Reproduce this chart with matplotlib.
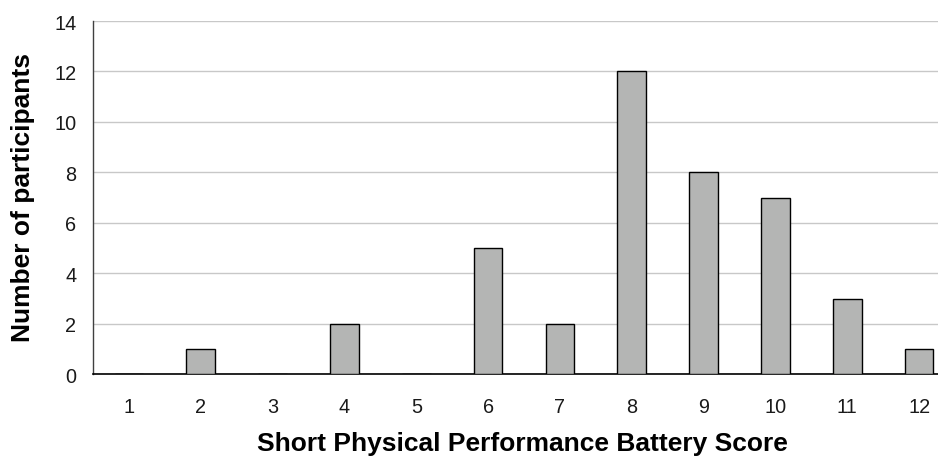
import numpy as np
import matplotlib
matplotlib.use("Agg")
import matplotlib.pyplot as plt

scores = [1, 2, 3, 4, 5, 6, 7, 8, 9, 10, 11, 12]
participants = [0, 1, 0, 2, 0, 5, 2, 12, 8, 7, 3, 1]
y_ticks = [0, 2, 4, 6, 8, 10, 12, 14]

plt.rcParams['font.family'] = ['Liberation Sans', 'DejaVu Sans']

fig = plt.figure(figsize=(9.38, 4.6), dpi=100)
# axes runs slightly past the right edge, like the reference
ax = fig.add_axes([93 / 938, 1 - 375.3 / 460, (955 - 93) / 938, (375.3 - 22) / 460])

ax.bar(scores, participants, width=0.4, color='#b4b5b4', edgecolor='black',
       linewidth=1.0, zorder=3)

ax.set_xlim(0.5, 12.5)
ax.set_ylim(0, 14)
ax.set_yticks(y_ticks)
ax.set_xticks(scores)
ax.set_xticklabels([str(s) for s in scores])
ax.tick_params(axis='both', length=0, labelsize=14.3, colors='#1a1a1a')
ax.tick_params(axis='x', pad=16)
ax.tick_params(axis='y', pad=12)

ax.yaxis.grid(True, color='#c8c8c8', linewidth=1.0, zorder=0)
ax.set_axisbelow(True)

for side in ['top', 'right']:
    ax.spines[side].set_visible(False)
ax.spines['left'].set_color('#404040')
ax.spines['left'].set_linewidth(1.0)
ax.spines['bottom'].set_color('black')
ax.spines['bottom'].set_linewidth(1.2)

fig.text(23 / 938, 1 - 197 / 460, 'Number of participants', rotation=90,
         fontsize=19, fontweight='bold', ha='center', va='center')
fig.text(522 / 938, 1 - 444 / 460, 'Short Physical Performance Battery Score',
         fontsize=19, fontweight='bold', ha='center', va='center')

fig.savefig('out.png', dpi=100)
